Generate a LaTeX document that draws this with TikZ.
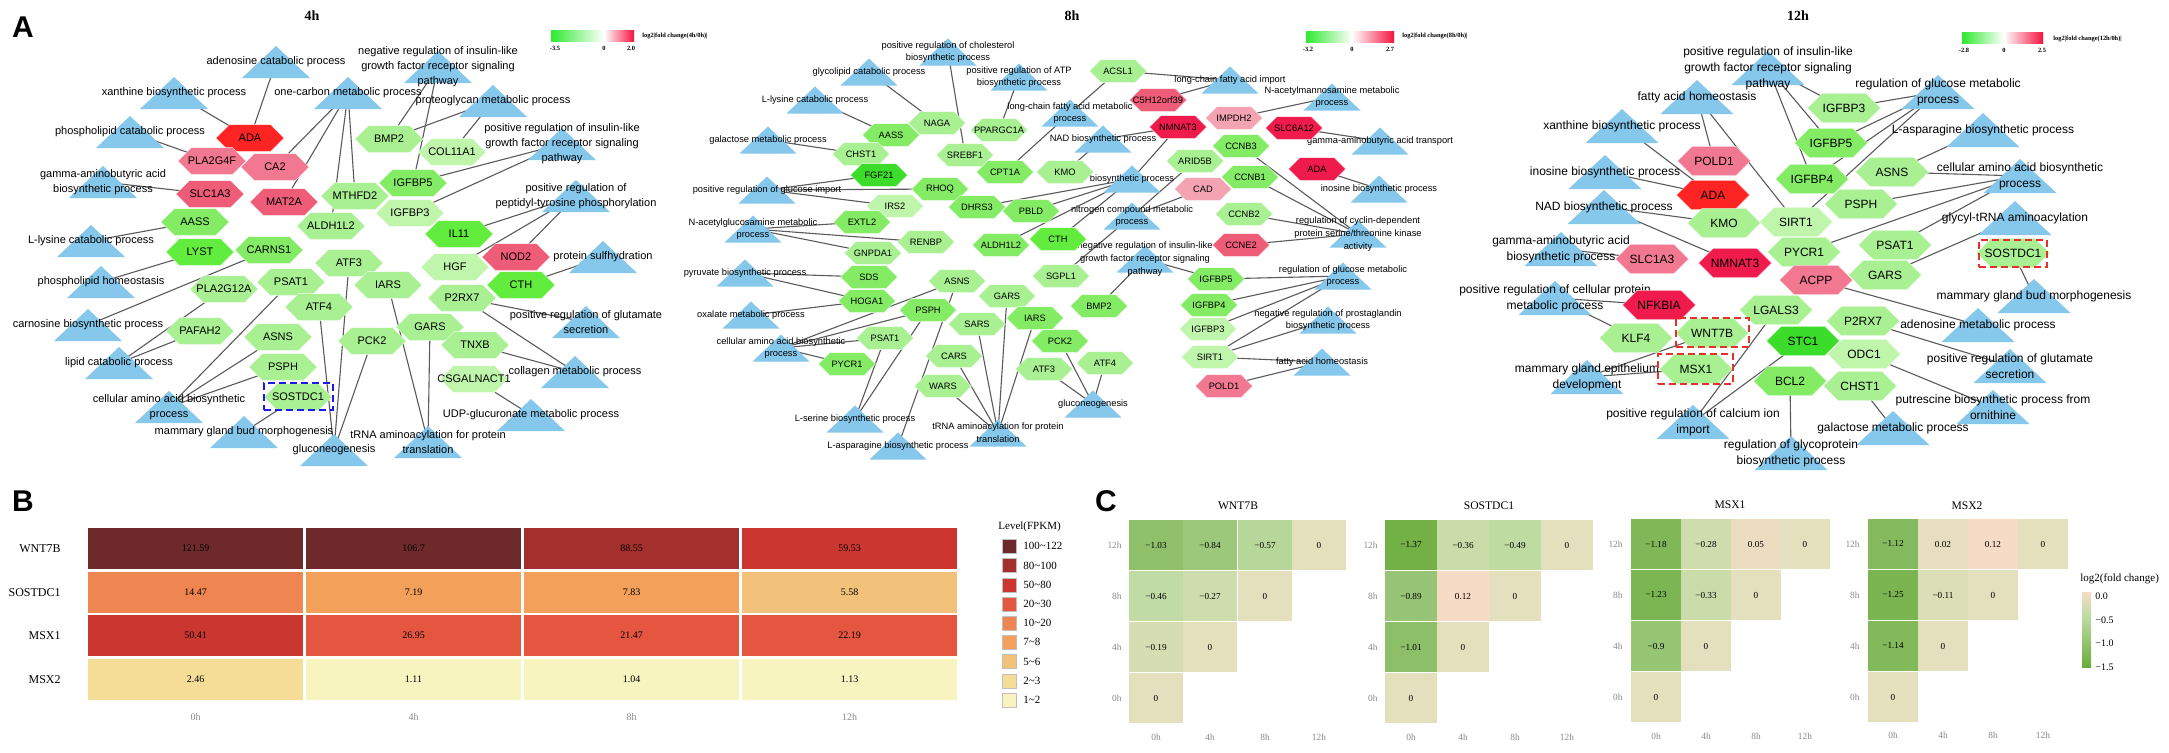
\documentclass[tikz,border=0pt]{standalone}
\usepackage{fontspec}
\setmainfont{Liberation Sans}
\newfontfamily\tnr{Liberation Serif}
\usetikzlibrary{shapes.symbols}
\pgfdeclarelayer{bg}
\pgfsetlayers{bg,main}
\definecolor{tricol}{HTML}{86C8EC}
\definecolor{edgecol}{HTML}{5A5A5A}
\definecolor{hR}{HTML}{FF2424}
\definecolor{hRb}{HTML}{EE1B4C}
\definecolor{hPa}{HTML}{F27891}
\definecolor{hPb}{HTML}{EE5C77}
\definecolor{hPc}{HTML}{F4A3B3}
\definecolor{gB}{HTML}{62EC3E}
\definecolor{gBB}{HTML}{3CDC2A}
\definecolor{gM}{HTML}{84EC64}
\definecolor{gL}{HTML}{A8F092}
\definecolor{gXL}{HTML}{C0F5AC}
\definecolor{bcA}{HTML}{6E2A2B}
\definecolor{bcB}{HTML}{A3302D}
\definecolor{bcC}{HTML}{CB3630}
\definecolor{bcD}{HTML}{E55640}
\definecolor{bcE}{HTML}{EF8550}
\definecolor{bcF}{HTML}{F2A05A}
\definecolor{bcG}{HTML}{F3C27A}
\definecolor{bcH}{HTML}{F5DD98}
\definecolor{bcI}{HTML}{F7F4C0}
\definecolor{cZ}{HTML}{E4DFBD}
\definecolor{cV}{HTML}{BEDBA2}
\definecolor{cX}{HTML}{8CBF68}
\definecolor{cY}{HTML}{6AAB3A}
\definecolor{cPk}{HTML}{F6DBC6}
\definecolor{axgray}{HTML}{8A8A8A}
\definecolor{legG}{HTML}{2EEA2E}
\definecolor{legR}{HTML}{F5123E}
\definecolor{boxred}{HTML}{E8302A}
\definecolor{boxblue}{HTML}{1A1AF0}
\newcommand\fA{\fontsize{5.5}{7.5}\selectfont}
\newcommand\fB{\fontsize{4.65}{6.4}\selectfont}
\newcommand\fC{\fontsize{6}{8}\selectfont}
\tikzset{
 hexbase/.style={signal, signal to=east and west, signal pointer angle=90, inner sep=0pt, draw=white, draw opacity=0.6, line width=0.3pt},
 hexA/.style={hexbase, minimum width=34pt, minimum height=13.5pt, font=\fA},
 hexB/.style={hexbase, minimum width=28.5pt, minimum height=11.5pt, font=\fB},
 hexC/.style={hexbase, minimum width=36.5pt, minimum height=14.6pt, font=\fC},
 lblA/.style={align=center, font=\fA, inner sep=0pt},
 lblB/.style={align=center, font=\fB, inner sep=0pt},
 lblC/.style={align=center, font=\fC, inner sep=0pt},
 edge/.style={draw=edgecol, line width=0.55pt},
 dbox/.style={draw=#1, dash pattern=on 3.5pt off 2pt, line width=1.1pt, inner sep=0pt},
 legtxt/.style={font=\tnr\bfseries\fontsize{3.2}{4}\selectfont, inner sep=0pt},
 cellB/.style={minimum width=107.5pt, minimum height=20.5pt, inner sep=0pt, font=\tnr\fontsize{5}{6}\selectfont},
 rowlab/.style={font=\tnr\fontsize{6}{7}\selectfont, inner sep=0pt, anchor=east},
 collab/.style={font=\tnr\fontsize{5}{6}\selectfont, text=axgray, inner sep=0pt},
 sq/.style={minimum size=7pt, inner sep=0pt, draw=black!25, line width=0.2pt},
 sqlab/.style={font=\tnr\fontsize{5.5}{6.5}\selectfont, inner sep=0pt, anchor=west},
 cbase/.style={minimum height=25.35pt, inner sep=0pt, font=\tnr\fontsize{4.6}{5.5}\selectfont},
 cW/.style={cbase, minimum width=27.15pt},
 cS/.style={cbase, minimum width=26pt},
 cM/.style={cbase, minimum width=25pt},
 clab/.style={font=\tnr\fontsize{4.7}{5.5}\selectfont, text=axgray, inner sep=0pt},
 ctitle/.style={font=\tnr\fontsize{5.8}{7}\selectfont, inner sep=0pt},
 panel/.style={font=\bfseries\fontsize{15}{15}\selectfont, inner sep=0pt},
 ptitle/.style={font=\tnr\bfseries\fontsize{7}{8}\selectfont, inner sep=0pt},
}
\newcommand\HA[5]{\node[hexA,fill=#5] (#1) at (#3,#4) {\makebox[0pt]{#2}};}
\newcommand\HB[5]{\node[hexB,fill=#5] (#1) at (#3,#4) {\makebox[0pt]{#2}};}
\newcommand\HC[5]{\node[hexC,fill=#5] (#1) at (#3,#4) {\makebox[0pt]{#2}};}
\newcommand\TA[4]{\fill[tricol] ({#2-34},{#3+16}) -- (#2,{#3-16}) -- ({#2+34},{#3+16}) -- cycle; \node[lblA] (#1) at (#2,#3) {#4};}
\newcommand\TB[4]{\fill[tricol] ({#2-28.5},{#3+13.5}) -- (#2,{#3-13.5}) -- ({#2+28.5},{#3+13.5}) -- cycle; \node[lblB] (#1) at (#2,#3) {#4};}
\newcommand\TC[4]{\fill[tricol] ({#2-36.5},{#3+17}) -- (#2,{#3-17}) -- ({#2+36.5},{#3+17}) -- cycle; \node[lblC] (#1) at (#2,#3) {#4};}
\begin{document}
\begin{tikzpicture}[x=0.5pt,y=-0.5pt]
\useasboundingbox (0,0) rectangle (2169,752);
\begin{pgfonlayer}{bg}
\fill[white] (0,0) rectangle (2169,752);
\end{pgfonlayer}
% ---------------- panel labels and titles
\node[panel] (pA) at (23,27) {A};
\node[panel] (pB) at (23,501) {B};
\node[panel] (pC) at (1106,501) {C};
\node[ptitle] (t4) at (312,16) {4h};
\node[ptitle] (t8) at (1072,16) {8h};
\node[ptitle] (t12) at (1798,16) {12h};
% legends of A
\shade[left color=legG, right color=white] (551,30) rectangle (604,41);
\shade[left color=white, right color=legR] (604,30) rectangle (634,41);
\node[legtxt] (la1) at (555,48) {-3.5};
\node[legtxt] (la2) at (604,48) {0};
\node[legtxt] (la3) at (631,48) {2.0};
\node[legtxt,anchor=west] (la4) at (642,36) {log2|fold change(4h/0h)|};
\shade[left color=legG, right color=white] (1306,31) rectangle (1352,42);
\shade[left color=white, right color=legR] (1352,31) rectangle (1394,42);
\node[legtxt] (lb1) at (1308,49) {-3.2};
\node[legtxt] (lb2) at (1352,49) {0};
\node[legtxt] (lb3) at (1390,49) {2.7};
\node[legtxt,anchor=west] (lb4) at (1402,36) {log2|fold change(8h/0h)|};
\shade[left color=legG, right color=white] (1962,32) rectangle (2004,43);
\shade[left color=white, right color=legR] (2004,32) rectangle (2043,43);
\node[legtxt] (lc1) at (1964,50) {-2.8};
\node[legtxt] (lc2) at (2004,50) {0};
\node[legtxt] (lc3) at (2042,50) {2.5};
\node[legtxt,anchor=west] (lc4) at (2053,39) {log2|fold change(12h/0h)|};
% ---------------- 4h triangles
\TA{aTaden}{276}{62}{adenosine catabolic process}
\TA{aTxan}{174}{93}{xanthine biosynthetic process}
\TA{aTonec}{348}{93}{one-carbon metabolic process}
\TA{aTneg}{438}{67}{negative regulation of insulin-like\\growth factor receptor signaling\\pathway}
\TA{aTprot}{493}{101}{proteoglycan metabolic process}
\TA{aTphos}{130}{132}{phospholipid catabolic process}
\TA{aTposigf}{562}{144}{positive regulation of insulin-like\\growth factor receptor signaling\\pathway}
\TA{aTgaba}{103}{182}{gamma-aminobutyric acid\\biosynthetic process}
\TA{aTpept}{576}{196}{positive regulation of\\peptidyl-tyrosine phosphorylation}
\TA{aTlys}{91}{241}{L-lysine catabolic process}
\TA{aTphoho}{101}{282}{phospholipid homeostasis}
\TA{aTcarn}{88}{325}{carnosine biosynthetic process}
\TA{aTlipid}{119}{363}{lipid catabolic process}
\TA{aTcell}{169}{407}{cellular amino acid biosynthetic\\process}
\TA{aTmam}{244}{432}{mammary gland bud morphogenesis}
\TA{aTgluc}{334}{450}{gluconeogenesis}
\TA{aTtrna}{428}{442}{tRNA aminoacylation for protein\\translation}
\TA{aTsulf}{603}{257}{protein sulfhydration}
\TA{aTglut}{586}{322}{positive regulation of glutamate\\secretion}
\TA{aTcoll}{575}{372}{collagen metabolic process}
\TA{aTudp}{531}{415}{UDP-glucuronate metabolic process}
% ---------------- 4h hexagons
\HA{aADA}{ADA}{250}{138}{hR}
\HA{aPLA2G4F}{PLA2G4F}{212}{161}{hPa}
\HA{aCA2}{CA2}{275}{167}{hPa}
\HA{aSLC1A3}{SLC1A3}{210}{194}{hPb}
\HA{aMAT2A}{MAT2A}{284}{202}{hPb}
\HA{aBMP2}{BMP2}{389}{139}{gL}
\HA{aCOL11A1}{COL11A1}{452}{152}{gXL}
\HA{aIGFBP5}{IGFBP5}{413}{183}{gM}
\HA{aMTHFD2}{MTHFD2}{355}{196}{gL}
\HA{aIGFBP3}{IGFBP3}{410}{213}{gXL}
\HA{aAASS}{AASS}{195}{222}{gM}
\HA{aALDH1L2}{ALDH1L2}{331}{226}{gL}
\HA{aIL11}{IL11}{459}{234}{gB}
\HA{aLYST}{LYST}{200}{252}{gB}
\HA{aCARNS1}{CARNS1}{269}{250}{gM}
\HA{aATF3}{ATF3}{349}{263}{gL}
\HA{aHGF}{HGF}{455}{267}{gXL}
\HA{aNOD2}{NOD2}{516}{257}{hPb}
\HA{aCTH}{CTH}{521}{285}{gB}
\HA{aPLA2G12A}{PLA2G12A}{224}{289}{gL}
\HA{aPSAT1}{PSAT1}{291}{282}{gL}
\HA{aIARS}{IARS}{388}{285}{gL}
\HA{aATF4}{ATF4}{319}{307}{gL}
\HA{aP2RX7}{P2RX7}{462}{298}{gL}
\HA{aPAFAH2}{PAFAH2}{200}{331}{gL}
\HA{aASNS}{ASNS}{278}{337}{gL}
\HA{aPCK2}{PCK2}{372}{341}{gL}
\HA{aGARS}{GARS}{430}{327}{gL}
\HA{aTNXB}{TNXB}{475}{345}{gL}
\HA{aPSPH}{PSPH}{283}{367}{gL}
\HA{aCSGALNACT1}{CSGALNACT1}{474}{379}{gXL}
\HA{aSOSTDC1}{SOSTDC1}{298}{397}{gL}
\node[dbox=boxblue, minimum width=34.5pt, minimum height=13.5pt] (aBox) at (298.5,396.5) {};
% ---------------- 8h triangles
\TB{bTchol}{948}{52}{positive regulation of cholesterol\\biosynthetic process}
\TB{bTglyco}{869}{72}{glycolipid catabolic process}
\TB{bTatp}{1019}{77}{positive regulation of ATP\\biosynthetic process}
\TB{bTlys}{815}{100}{L-lysine catabolic process}
\TB{bTlcfa}{1070}{113}{long-chain fatty acid metabolic\\process}
\TB{bTlcimp}{1230}{80}{long-chain fatty acid import}
\TB{bTnacm}{1332}{97}{N-acetylmannosamine metabolic\\process}
\TB{bTgal}{768}{140}{galactose metabolic process}
\TB{bTnad}{1103}{139}{NAD biosynthetic process}
\TB{bTgabat}{1380}{141}{gamma-aminobutyric acid transport}
\TB{bTglcimp}{767}{190}{positive regulation of glucose import}
\TB{bTbiosyn}{1132}{179}{biosynthetic process}
\TB{bTinos}{1379}{189}{inosine biosynthetic process}
\TB{bTnacg}{753}{229}{N-acetylglucosamine metabolic\\process}
\TB{bTncmp}{1132}{216}{nitrogen compound metabolic\\process}
\TB{bTcdk}{1358}{234}{regulation of cyclin-dependent\\protein serine/threonine kinase\\activity}
\TB{bTpyr}{745}{273}{pyruvate biosynthetic process}
\TB{bToxa}{751}{315}{oxalate metabolic process}
\TB{bTcell}{781}{348}{cellular amino acid biosynthetic\\process}
\TB{bTlser}{855}{419}{L-serine biosynthetic process}
\TB{bTlasp}{898}{446}{L-asparagine biosynthetic process}
\TB{bTtrna}{998}{433}{tRNA aminoacylation for protein\\translation}
\TB{bTgluc}{1093}{404}{gluconeogenesis}
\TB{bTnegigf}{1145}{259}{negative regulation of insulin-like\\growth factor receptor signaling\\pathway}
\TB{bTglcmet}{1343}{276}{regulation of glucose metabolic\\process}
\TB{bTprost}{1328}{320}{negative regulation of prostaglandin\\biosynthetic process}
\TB{bTfah}{1322}{362}{fatty acid homeostasis}
% ---------------- 8h hexagons
\HB{bACSL1}{ACSL1}{1118}{71}{gL}
\HB{bC5H12orf39}{C5H12orf39}{1158}{100}{hPb}
\HB{bNAGA}{NAGA}{937}{123}{gL}
\HB{bAASS}{AASS}{891}{135}{gM}
\HB{bPPARGC1A}{PPARGC1A}{999}{130}{gL}
\HB{bIMPDH2}{IMPDH2}{1234}{118}{hPc}
\HB{bNMNAT3}{NMNAT3}{1178}{127}{hRb}
\HB{bSLC6A12}{SLC6A12}{1294}{128}{hRb}
\HB{bCHST1}{CHST1}{861}{154}{gL}
\HB{bSREBF1}{SREBF1}{965}{155}{gL}
\HB{bCCNB3}{CCNB3}{1241}{146}{gM}
\HB{bARID5B}{ARID5B}{1195}{161}{gL}
\HB{bCPT1A}{CPT1A}{1005}{172}{gM}
\HB{bKMO}{KMO}{1065}{172}{gL}
\HB{bFGF21}{FGF21}{879}{175}{gBB}
\HB{bADA}{ADA}{1317}{169}{hRb}
\HB{bCCNB1}{CCNB1}{1250}{177}{gM}
\HB{bCAD}{CAD}{1203}{189}{hPc}
\HB{bRHOQ}{RHOQ}{940}{189}{gM}
\HB{bIRS2}{IRS2}{895}{206}{gXL}
\HB{bDHRS3}{DHRS3}{977}{207}{gM}
\HB{bPBLD}{PBLD}{1031}{211}{gM}
\HB{bCCNB2}{CCNB2}{1244}{214}{gL}
\HB{bEXTL2}{EXTL2}{862}{222}{gM}
\HB{bRENBP}{RENBP}{926}{242}{gL}
\HB{bALDH1L2}{ALDH1L2}{1001}{245}{gM}
\HB{bCTH}{CTH}{1058}{239}{gB}
\HB{bCCNE2}{CCNE2}{1241}{245}{hPb}
\HB{bGNPDA1}{GNPDA1}{873}{253}{gL}
\HB{bSDS}{SDS}{869}{277}{gM}
\HB{bSGPL1}{SGPL1}{1061}{276}{gL}
\HB{bASNS}{ASNS}{957}{281}{gL}
\HB{bIGFBP5}{IGFBP5}{1216}{279}{gM}
\HB{bGARS}{GARS}{1007}{296}{gL}
\HB{bHOGA1}{HOGA1}{867}{301}{gM}
\HB{bBMP2}{BMP2}{1099}{306}{gM}
\HB{bIGFBP4}{IGFBP4}{1209}{305}{gM}
\HB{bPSPH}{PSPH}{928}{310}{gM}
\HB{bSARS}{SARS}{977}{324}{gL}
\HB{bIARS}{IARS}{1035}{318}{gM}
\HB{bIGFBP3}{IGFBP3}{1208}{329}{gXL}
\HB{bPSAT1}{PSAT1}{885}{338}{gL}
\HB{bPCK2}{PCK2}{1060}{341}{gM}
\HB{bCARS}{CARS}{954}{356}{gL}
\HB{bSIRT1}{SIRT1}{1210}{357}{gXL}
\HB{bATF4}{ATF4}{1105}{363}{gL}
\HB{bPYCR1}{PYCR1}{847}{364}{gM}
\HB{bATF3}{ATF3}{1044}{369}{gL}
\HB{bWARS}{WARS}{943}{386}{gL}
\HB{bPOLD1}{POLD1}{1224}{386}{hPa}
% ---------------- 12h triangles
\TC{cTposigf}{1768}{68}{positive regulation of insulin-like\\growth factor receptor signaling\\pathway}
\TC{cTfah}{1697}{97}{fatty acid homeostasis}
\TC{cTglc}{1938}{92}{regulation of glucose metabolic\\process}
\TC{cTxan}{1622}{126}{xanthine biosynthetic process}
\TC{cTlasp}{1983}{130}{L-asparagine biosynthetic process}
\TC{cTinos}{1605}{172}{inosine biosynthetic process}
\TC{cTcell}{2020}{176}{cellular amino acid biosynthetic\\process}
\TC{cTnad}{1604}{207}{NAD biosynthetic process}
\TC{cTgly}{2015}{218}{glycyl-tRNA aminoacylation}
\TC{cTgaba}{1561}{249}{gamma-aminobutyric acid\\biosynthetic process}
\TC{cTpcp}{1555}{298}{positive regulation of cellular protein\\metabolic process}
\TC{cTmam}{2034}{296}{mammary gland bud morphogenesis}
\TC{cTaden}{1978}{325}{adenosine metabolic process}
\TC{cTmgep}{1587}{377}{mammary gland epithelium\\development}
\TC{cTglut}{2010}{366}{positive regulation of glutamate\\secretion}
\TC{cTput}{1993}{407}{putrescine biosynthetic process from\\ornithine}
\TC{cTca}{1693}{422}{positive regulation of calcium ion\\import}
\TC{cTgalm}{1893}{428}{galactose metabolic process}
\TC{cTgp}{1791}{453}{regulation of glycoprotein\\biosynthetic process}
% ---------------- 12h hexagons
\HC{cIGFBP3}{IGFBP3}{1844}{108}{gL}
\HC{cPOLD1}{POLD1}{1714}{161}{hPa}
\HC{cIGFBP5}{IGFBP5}{1831}{143}{gM}
\HC{cASNS}{ASNS}{1892}{172}{gL}
\HC{cIGFBP4}{IGFBP4}{1812}{179}{gM}
\HC{cADA}{ADA}{1713}{195}{hR}
\HC{cPSPH}{PSPH}{1861}{204}{gL}
\HC{cKMO}{KMO}{1724}{223}{gL}
\HC{cSIRT1}{SIRT1}{1796}{222}{gXL}
\HC{cPYCR1}{PYCR1}{1804}{252}{gL}
\HC{cPSAT1}{PSAT1}{1895}{245}{gL}
\HC{cSOSTDC1}{SOSTDC1}{2013}{253}{gL}
\HC{cSLC1A3}{SLC1A3}{1652}{259}{hPa}
\HC{cNMNAT3}{NMNAT3}{1735}{263}{hRb}
\HC{cACPP}{ACPP}{1816}{280}{hPa}
\HC{cGARS}{GARS}{1885}{275}{gL}
\HC{cNFKBIA}{NFKBIA}{1659}{305}{hRb}
\HC{cLGALS3}{LGALS3}{1776}{310}{gL}
\HC{cP2RX7}{P2RX7}{1863}{321}{gL}
\HC{cKLF4}{KLF4}{1636}{338}{gL}
\HC{cWNT7B}{WNT7B}{1712}{333}{gL}
\HC{cSTC1}{STC1}{1803}{341}{gBB}
\HC{cODC1}{ODC1}{1864}{354}{gXL}
\HC{cMSX1}{MSX1}{1696}{369}{gL}
\HC{cBCL2}{BCL2}{1790}{381}{gM}
\HC{cCHST1}{CHST1}{1860}{386}{gL}
\node[dbox=boxred, minimum width=34pt, minimum height=13.5pt] (cBoxS) at (2013,253.5) {};
\node[dbox=boxred, minimum width=36.5pt, minimum height=14.5pt] (cBoxW) at (1712.5,332.5) {};
\node[dbox=boxred, minimum width=37.5pt, minimum height=15pt] (cBoxM) at (1695.5,369) {};
% ---------------- edges
\begin{pgfonlayer}{bg}
\foreach \u/\v in {aADA/aTaden, aADA/aTxan, aPLA2G4F/aTphos, aCA2/aTonec, aMAT2A/aTonec, aMTHFD2/aTonec, aALDH1L2/aTonec, aBMP2/aTneg, aBMP2/aTprot, aIGFBP5/aTneg, aCOL11A1/aTprot, aIGFBP5/aTposigf, aIGFBP3/aTposigf, aSLC1A3/aTgaba, aAASS/aTlys, aIL11/aTpept, aHGF/aTpept, aNOD2/aTpept, aCTH/aTsulf, aLYST/aTphoho, aCARNS1/aTcarn, aPLA2G12A/aTlipid, aPAFAH2/aTlipid, aPSAT1/aTcell, aASNS/aTcell, aPSPH/aTcell, aSOSTDC1/aTmam, aATF4/aTgluc, aATF3/aTgluc, aPCK2/aTgluc, aIARS/aTtrna, aGARS/aTtrna, aP2RX7/aTglut, aP2RX7/aTcoll, aTNXB/aTcoll, aCSGALNACT1/aTudp}
  \draw[edge] (\u.center) -- (\v.center);
\foreach \u/\v in {bNAGA/bTglyco, bAASS/bTlys, bSREBF1/bTchol, bPPARGC1A/bTatp, bCHST1/bTgal, bACSL1/bTlcimp, bC5H12orf39/bTlcimp, bACSL1/bTlcfa, bCPT1A/bTlcfa, bIMPDH2/bTnacm, bNMNAT3/bTnad, bKMO/bTnad, bSLC6A12/bTgabat, bFGF21/bTglcimp, bRHOQ/bTglcimp, bIRS2/bTglcimp, bDHRS3/bTbiosyn, bPBLD/bTbiosyn, bNMNAT3/bTbiosyn, bALDH1L2/bTbiosyn, bCTH/bTbiosyn, bSGPL1/bTncmp, bARID5B/bTncmp, bCAD/bTncmp, bADA/bTinos, bCCNB3/bTcdk, bCCNB1/bTcdk, bCCNB2/bTcdk, bCCNE2/bTcdk, bEXTL2/bTnacg, bRENBP/bTnacg, bGNPDA1/bTnacg, bSDS/bTpyr, bHOGA1/bTpyr, bHOGA1/bToxa, bASNS/bTcell, bPSPH/bTcell, bPSAT1/bTcell, bPYCR1/bTcell, bPSAT1/bTlser, bPSPH/bTlser, bASNS/bTlasp, bGARS/bTtrna, bSARS/bTtrna, bIARS/bTtrna, bCARS/bTtrna, bWARS/bTtrna, bATF3/bTgluc, bPCK2/bTgluc, bATF4/bTgluc, bBMP2/bTnegigf, bIGFBP5/bTnegigf, bIGFBP5/bTglcmet, bIGFBP4/bTglcmet, bIGFBP3/bTglcmet, bSIRT1/bTglcmet, bSIRT1/bTprost, bSIRT1/bTfah, bPOLD1/bTfah}
  \draw[edge] (\u.center) -- (\v.center);
\foreach \u/\v in {cTposigf/cIGFBP3, cTposigf/cIGFBP5, cTposigf/cIGFBP4, cTglc/cIGFBP3, cTglc/cIGFBP5, cTglc/cIGFBP4, cTglc/cSIRT1, cTfah/cPOLD1, cTfah/cSIRT1, cTxan/cADA, cTinos/cADA, cTnad/cKMO, cTnad/cNMNAT3, cTlasp/cASNS, cTcell/cASNS, cTcell/cPSPH, cTcell/cPYCR1, cTcell/cPSAT1, cTgly/cGARS, cTgaba/cSLC1A3, cTpcp/cNFKBIA, cTpcp/cKLF4, cTmam/cSOSTDC1, cTaden/cACPP, cTmgep/cWNT7B, cTmgep/cMSX1, cTglut/cP2RX7, cTput/cODC1, cTca/cLGALS3, cTca/cSTC1, cTgalm/cCHST1, cTgp/cBCL2}
  \draw[edge] (\u.center) -- (\v.center);
\end{pgfonlayer}
% ---------------- panel B
\node[rowlab] (rW) at (61,548.5) {WNT7B};
\node[rowlab] (rS) at (61,592.5) {SOSTDC1};
\node[rowlab] (rM1) at (61,635.5) {MSX1};
\node[rowlab] (rM2) at (61,679.5) {MSX2};
\node[cellB,fill=bcA] (hW0) at (195.5,548.5) {121.59};
\node[cellB,fill=bcA] (hW4) at (413.5,548.5) {106.7};
\node[cellB,fill=bcB] (hW8) at (631.5,548.5) {88.55};
\node[cellB,fill=bcC] (hW12) at (849.5,548.5) {59.53};
\node[cellB,fill=bcE] (hS0) at (195.5,592.5) {14.47};
\node[cellB,fill=bcF] (hS4) at (413.5,592.5) {7.19};
\node[cellB,fill=bcF] (hS8) at (631.5,592.5) {7.83};
\node[cellB,fill=bcG] (hS12) at (849.5,592.5) {5.58};
\node[cellB,fill=bcC] (hM0) at (195.5,635.5) {50.41};
\node[cellB,fill=bcD] (hM4) at (413.5,635.5) {26.95};
\node[cellB,fill=bcD] (hM8) at (631.5,635.5) {21.47};
\node[cellB,fill=bcD] (hM12) at (849.5,635.5) {22.19};
\node[cellB,fill=bcH] (hN0) at (195.5,679.5) {2.46};
\node[cellB,fill=bcI] (hN4) at (413.5,679.5) {1.11};
\node[cellB,fill=bcI] (hN8) at (631.5,679.5) {1.04};
\node[cellB,fill=bcI] (hN12) at (849.5,679.5) {1.13};
\node[collab] (xb0) at (195.5,717) {0h};
\node[collab] (xb4) at (413.5,717) {4h};
\node[collab] (xb8) at (631.5,717) {8h};
\node[collab] (xb12) at (849.5,717) {12h};
\node[sqlab] (levt) at (998,527) {Level(FPKM)};
\node[sq,fill=bcA] (q1) at (1009,546) {};
\node[sq,fill=bcB] (q2) at (1009,565.5) {};
\node[sq,fill=bcC] (q3) at (1009,585) {};
\node[sq,fill=bcD] (q4) at (1009,604) {};
\node[sq,fill=bcE] (q5) at (1009,623) {};
\node[sq,fill=bcF] (q6) at (1009,642) {};
\node[sq,fill=bcG] (q7) at (1009,661.5) {};
\node[sq,fill=bcH] (q8) at (1009,681) {};
\node[sq,fill=bcI] (q9) at (1009,700) {};
\node[sqlab] (qt1) at (1023,546) {100\textasciitilde122};
\node[sqlab] (qt2) at (1023,565.5) {80\textasciitilde100};
\node[sqlab] (qt3) at (1023,585) {50\textasciitilde80};
\node[sqlab] (qt4) at (1023,604) {20\textasciitilde30};
\node[sqlab] (qt5) at (1023,623) {10\textasciitilde20};
\node[sqlab] (qt6) at (1023,642) {7\textasciitilde8};
\node[sqlab] (qt7) at (1023,661.5) {5\textasciitilde6};
\node[sqlab] (qt8) at (1023,681) {2\textasciitilde3};
\node[sqlab] (qt9) at (1023,700) {1\textasciitilde2};
% ---------------- panel C : WNT7B
\node[ctitle] (tW) at (1238,506) {WNT7B};
\node[cW,fill=cX!94!cV] (w1) at (1156,545) {−1.03};
\node[cW,fill=cX!68!cV] (w2) at (1210,545) {−0.84};
\node[cW,fill=cX!14!cV] (w3) at (1265,545) {−0.57};
\node[cW,fill=cZ] (w4) at (1319,545) {0};
\node[cW,fill=cV!92!cZ] (w5) at (1156,596) {−0.46};
\node[cW,fill=cV!54!cZ] (w6) at (1210,596) {−0.27};
\node[cW,fill=cZ] (w7) at (1265,596) {0};
\node[cW,fill=cV!38!cZ] (w8) at (1156,647) {−0.19};
\node[cW,fill=cZ] (w9) at (1210,647) {0};
\node[cW,fill=cZ] (w10) at (1156,698) {0};
\node[clab,anchor=east] (wr1) at (1122,545) {12h};
\node[clab,anchor=east] (wr2) at (1122,596) {8h};
\node[clab,anchor=east] (wr3) at (1122,647) {4h};
\node[clab,anchor=east] (wr4) at (1122,698) {0h};
\node[clab] (wc1) at (1156,737) {0h};
\node[clab] (wc2) at (1210,737) {4h};
\node[clab] (wc3) at (1265,737) {8h};
\node[clab] (wc4) at (1319,737) {12h};
% SOSTDC1
\node[ctitle] (tS) at (1489,506) {SOSTDC1};
\node[cS,fill=cY!74!cX] (s1) at (1411,545) {−1.37};
\node[cS,fill=cV!72!cZ] (s2) at (1463,545) {−0.36};
\node[cS,fill=cV] (s3) at (1515,545) {−0.49};
\node[cS,fill=cZ] (s4) at (1567,545) {0};
\node[cS,fill=cX!78!cV] (s5) at (1411,596) {−0.89};
\node[cS,fill=cPk] (s6) at (1463,596) {0.12};
\node[cS,fill=cZ] (s7) at (1515,596) {0};
\node[cS,fill=cX] (s8) at (1411,647) {−1.01};
\node[cS,fill=cZ] (s9) at (1463,647) {0};
\node[cS,fill=cZ] (s10) at (1411,698) {0};
\node[clab,anchor=east] (sr1) at (1378,545) {12h};
\node[clab,anchor=east] (sr2) at (1378,596) {8h};
\node[clab,anchor=east] (sr3) at (1378,647) {4h};
\node[clab,anchor=east] (sr4) at (1378,698) {0h};
\node[clab] (sc1) at (1411,737) {0h};
\node[clab] (sc2) at (1463,737) {4h};
\node[clab] (sc3) at (1515,737) {8h};
\node[clab] (sc4) at (1567,737) {12h};
% MSX1
\node[ctitle] (tM1) at (1730,505) {MSX1};
\node[cM,fill=cY!36!cX] (m1) at (1656,544) {−1.18};
\node[cM,fill=cV!56!cZ] (m2) at (1706,544) {−0.28};
\node[cM,fill=cPk!42!cZ] (m3) at (1756,544) {0.05};
\node[cM,fill=cZ] (m4) at (1805,544) {0};
\node[cM,fill=cY!46!cX] (m5) at (1656,595) {−1.23};
\node[cM,fill=cV!66!cZ] (m6) at (1706,595) {−0.33};
\node[cM,fill=cZ] (m7) at (1756,595) {0};
\node[cM,fill=cX!80!cV] (m8) at (1656,646) {−0.9};
\node[cM,fill=cZ] (m9) at (1706,646) {0};
\node[cM,fill=cZ] (m10) at (1656,697) {0};
\node[clab,anchor=east] (mr1) at (1623,544) {12h};
\node[clab,anchor=east] (mr2) at (1623,595) {8h};
\node[clab,anchor=east] (mr3) at (1623,646) {4h};
\node[clab,anchor=east] (mr4) at (1623,697) {0h};
\node[clab] (mc1) at (1656,736) {0h};
\node[clab] (mc2) at (1706,736) {4h};
\node[clab] (mc3) at (1756,736) {8h};
\node[clab] (mc4) at (1805,736) {12h};
% MSX2
\node[ctitle] (tM2) at (1967,506) {MSX2};
\node[cM,fill=cY!24!cX] (n1) at (1893,544) {−1.12};
\node[cM,fill=cPk!17!cZ] (n2) at (1943,544) {0.02};
\node[cM,fill=cPk] (n3) at (1993,544) {0.12};
\node[cM,fill=cZ] (n4) at (2043,544) {0};
\node[cM,fill=cY!50!cX] (n5) at (1893,595) {−1.25};
\node[cM,fill=cV!22!cZ] (n6) at (1943,595) {−0.11};
\node[cM,fill=cZ] (n7) at (1993,595) {0};
\node[cM,fill=cY!28!cX] (n8) at (1893,646) {−1.14};
\node[cM,fill=cZ] (n9) at (1943,646) {0};
\node[cM,fill=cZ] (n10) at (1893,697) {0};
\node[clab,anchor=east] (nr1) at (1860,544) {12h};
\node[clab,anchor=east] (nr2) at (1860,595) {8h};
\node[clab,anchor=east] (nr3) at (1860,646) {4h};
\node[clab,anchor=east] (nr4) at (1860,697) {0h};
\node[clab] (nc1) at (1893,735) {0h};
\node[clab] (nc2) at (1943,735) {4h};
\node[clab] (nc3) at (1993,735) {8h};
\node[clab] (nc4) at (2043,735) {12h};
% colour bar
\node[sqlab] (cbt) at (2080,579) {log2(fold change)};
\shade[top color=cPk, bottom color=cV] (2082,592) rectangle (2091,617);
\shade[top color=cV, bottom color=cY] (2082,617) rectangle (2091,667);
\node[sqlab,font=\tnr\fontsize{5}{6}\selectfont] (cb1) at (2095,596) {0.0};
\node[sqlab,font=\tnr\fontsize{5}{6}\selectfont] (cb2) at (2095,620) {−0.5};
\node[sqlab,font=\tnr\fontsize{5}{6}\selectfont] (cb3) at (2095,643) {−1.0};
\node[sqlab,font=\tnr\fontsize{5}{6}\selectfont] (cb4) at (2095,667) {−1.5};
\end{tikzpicture}
\end{document}
